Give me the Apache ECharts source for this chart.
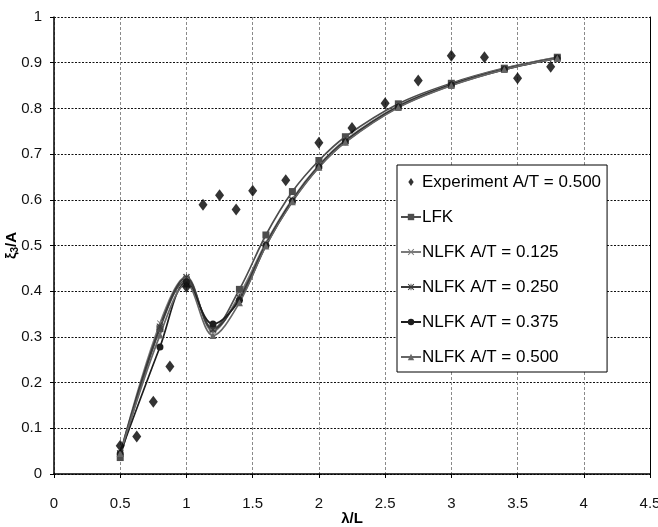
<!DOCTYPE html>
<html>
<head>
<meta charset="utf-8">
<script src="https://cdn.jsdelivr.net/npm/echarts@6/dist/echarts.min.js"></script>
<style>
  html, body { margin: 0; padding: 0; background: #fff; }
  #chart { width: 658px; height: 527px; }
</style>
</head>
<body>
<div id="chart"></div>
<script>
// Heave response amplitude vs. wavelength ratio
const expX = [0.5, 0.625, 0.75, 0.875, 1.0, 1.125, 1.25, 1.375, 1.5, 1.75, 2.0, 2.25, 2.5, 2.75, 3.0, 3.25, 3.5, 3.75];
const expY = [0.062, 0.082, 0.158, 0.235, 0.41, 0.589, 0.61, 0.579, 0.62, 0.643, 0.725, 0.757, 0.811, 0.861, 0.915, 0.912, 0.866, 0.891];

const calcX = [0.5, 0.8, 1.0, 1.2, 1.4, 1.6, 1.8, 2.0, 2.2, 2.6, 3.0, 3.4, 3.8];
const lfk      = [0.036, 0.318, 0.425, 0.318, 0.404, 0.523, 0.618, 0.686, 0.738, 0.810, 0.855, 0.888, 0.912];
const nlfk0125 = [0.045, 0.330, 0.432, 0.312, 0.392, 0.506, 0.602, 0.676, 0.731, 0.806, 0.853, 0.887, 0.911];
const nlfk0250 = [0.045, 0.322, 0.430, 0.316, 0.386, 0.503, 0.599, 0.674, 0.729, 0.804, 0.852, 0.886, 0.910];
const nlfk0375 = [0.045, 0.278, 0.420, 0.328, 0.380, 0.500, 0.597, 0.672, 0.727, 0.803, 0.851, 0.885, 0.910];
const nlfk0500 = [0.045, 0.304, 0.416, 0.303, 0.375, 0.499, 0.596, 0.671, 0.726, 0.802, 0.850, 0.885, 0.910];

const legendNames = [
  'Experiment A/T = 0.500',
  'LFK',
  'NLFK A/T = 0.125',
  'NLFK A/T = 0.250',
  'NLFK A/T = 0.375',
  'NLFK A/T = 0.500'
];

const xTicks = { min: 0, max: 4.5, interval: 0.5 };
const yTicks = { min: 0, max: 1, interval: 0.1 };

const FONT = '"Liberation Sans Narrow", "Liberation Sans", Arial, sans-serif';

const crossPath = 'path://M0,1L1,0L5,4L9,0L10,1L6,5L10,9L9,10L5,6L1,10L0,9L4,5Z';
const starPath = 'path://M0,1L1,0L5,4L9,0L10,1L6,5L10,9L9,10L5,6L1,10L0,9L4,5Z M4.4,0L5.6,0L5.6,10L4.4,10Z';
const diamondPath = 'path://M4,0L8,6L4,12L0,6Z';

function pairs(xs, ys) { return xs.map((x, i) => [x, ys[i]]); }

function curve(name, ys, color, symbol, size) {
  return {
    name: name,
    type: 'line',
    data: pairs(calcX, ys),
    smooth: 0.35,
    symbol: symbol,
    symbolSize: size,
    showSymbol: true,
    lineStyle: { color: color, width: 1.7 },
    itemStyle: { color: color },
    z: 3
  };
}

const chart = echarts.init(document.getElementById('chart'), null, { renderer: 'canvas' });

chart.setOption({
  animation: false,
  backgroundColor: '#fff',
  grid: { left: 54, right: 8, top: 17, bottom: 53, containLabel: false, outerBoundsMode: 'none' },
  xAxis: {
    type: 'value',
    min: xTicks.min, max: xTicks.max, interval: xTicks.interval,
    name: 'λ/L',
    nameLocation: 'middle',
    nameGap: 37,
    nameMoveOverlap: false,
    nameTextStyle: { fontFamily: FONT, fontWeight: 'bold', fontSize: 15, color: '#000' },
    axisLine: { onZero: false, lineStyle: { color: '#000', width: 1.5 } },
    axisTick: { show: true, inside: false, length: 4, lineStyle: { color: '#000' } },
    axisLabel: { fontFamily: FONT, fontSize: 15, color: '#111', margin: 22, showMaxLabel: true, showMinLabel: true },
    splitLine: { show: true, lineStyle: { color: '#8a8a8a', type: [3, 2], width: 1 } }
  },
  yAxis: [
    {
      type: 'value',
      min: yTicks.min, max: yTicks.max, interval: yTicks.interval,
      name: '{a|ξ}{s|3}{a|/A}',
      nameLocation: 'middle',
      nameGap: 34,
      nameMoveOverlap: false,
      nameRotate: 90,
      nameTextStyle: {
        rich: {
          a: { fontFamily: FONT, fontWeight: 'bold', fontSize: 15, color: '#000' },
          s: { fontFamily: FONT, fontWeight: 'bold', fontSize: 10, color: '#000', verticalAlign: 'bottom', padding: [6, 0, 0, 0] }
        }
      },
      axisLine: { show: true, onZero: false, lineStyle: { color: '#000', width: 1.5 } },
      axisTick: { show: true, inside: false, length: 4, lineStyle: { color: '#000' } },
      axisLabel: { fontFamily: FONT, fontSize: 15, color: '#111', margin: 12 },
      splitLine: { show: true, lineStyle: { color: '#111', type: [2, 1.5], width: 1 } }
    },
    {
      type: 'value',
      position: 'right',
      min: yTicks.min, max: yTicks.max, interval: yTicks.interval,
      axisLine: { show: true, onZero: false, lineStyle: { color: '#000', width: 1 } },
      axisTick: { show: false },
      axisLabel: { show: false },
      splitLine: { show: false }
    }
  ],
  legend: {
    orient: 'vertical',
    left: 397,
    top: 165,
    data: [
      { name: legendNames[0], icon: diamondPath, itemStyle: { color: '#000' } },
      legendNames[1], legendNames[2], legendNames[3], legendNames[4], legendNames[5]
    ],
    symbolKeepAspect: true,
    backgroundColor: '#fff',
    borderColor: '#000',
    borderWidth: 1,
    borderRadius: 0,
    padding: [7, 6, 5, 3],
    itemGap: 15,
    itemWidth: 20,
    itemHeight: 8,
    textStyle: { fontFamily: FONT, fontSize: 17, color: '#000', lineHeight: 20, padding: [0, 0, 0, -4] },
    z: 10
  },
  series: [
    {
      name: legendNames[0],
      type: 'scatter',
      data: pairs(expX, expY),
      symbol: 'diamond',
      symbolSize: [9, 12],
      itemStyle: { color: '#000' },
      z: 5
    },
    curve(legendNames[1], lfk, '#4d4d4d', 'rect', 7),
    curve(legendNames[2], nlfk0125, '#7a7a7a', crossPath, 6),
    curve(legendNames[3], nlfk0250, '#3a3a3a', starPath, 7),
    curve(legendNames[4], nlfk0375, '#1e1e1e', 'circle', 7),
    curve(legendNames[5], nlfk0500, '#666666', 'triangle', 7)
  ]
});
</script>
</body>
</html>
